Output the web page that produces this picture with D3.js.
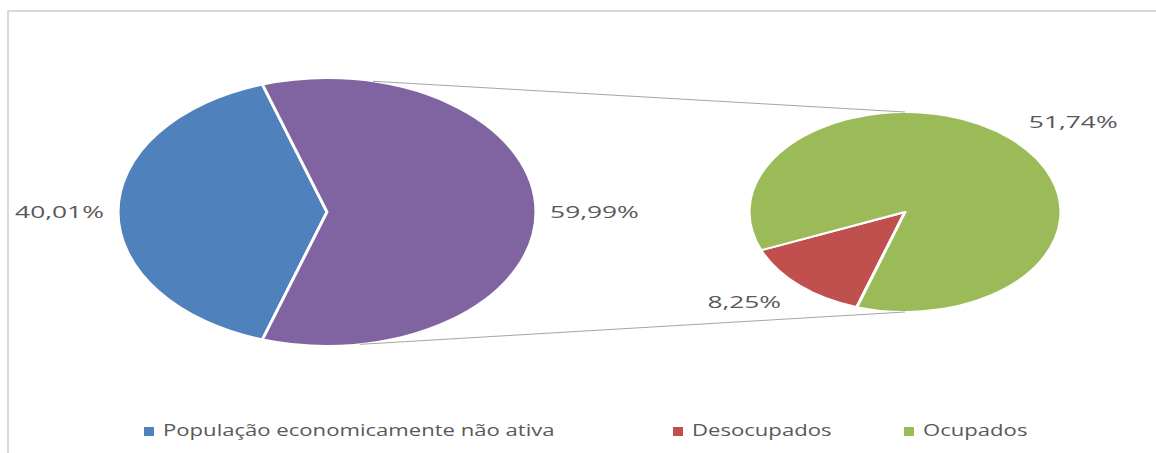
<!DOCTYPE html>
<html lang="pt">
<head>
<meta charset="UTF-8"/>
<title>População economicamente ativa e não ativa</title>
<script src="https://d3js.org/d3.v7.min.js"></script>
<style>
    body { margin: 0; background: #fff; }
    svg { display: block; }
</style>
</head>
<body>
<script>

    // data
    var categories = ["População economicamente não ativa", "Desocupados", "Ocupados"];
    var mainValues = [40.01, 59.99];    // não ativa | ativa (split into the second pie)
    var detailValues = [8.25, 51.74];   // desocupados | ocupados

    var w = 1156;
    var h = 453;
    var stretch = 1.56;                 // the picture is stretched horizontally
    var colors = ["#4F81BD", "#C0504D", "#9BBB59"];
    var otherColor = "#8064A2";
    var textColor = "#595959";

    var pt = d3.formatLocale({decimal: ",", thousands: ".", grouping: [3], currency: ["R$", ""]});
    var fmt = pt.format(".2f");

    var svg = d3.select("body")
                .append("svg")
                .attr("width", w)
                .attr("height", h);

    // chart border
    svg.append("rect")
        .attr("x", 8)
        .attr("y", 11)
        .attr("width", w)
        .attr("height", h)
        .attr("fill", "none")
        .attr("stroke", "#d9d9d9")
        .attr("stroke-width", 2);

    var cy = 212;
    var main = {cx: 327, r: 134, labelGap: 9};
    var detail = {cx: 905, r: 100, labelGap: 17};

    // the "other" slice is centred on the right side, like Excel's pie of pie
    var otherShare = d3.sum(detailValues) / d3.sum(mainValues);
    var start = Math.PI / 2 + Math.PI * otherShare;

    var pie = d3.pie()
                .sort(null)
                .startAngle(start)
                .endAngle(start + 2 * Math.PI);

    var mainArcs = pie(mainValues);
    var detailArcs = pie(detailValues);

    function drawPie(arcs, p, fills) {
        var arc = d3.arc().innerRadius(0).outerRadius(p.r);
        var g = svg.append("g")
                   .attr("transform", "translate(" + p.cx + "," + cy + ") scale(" + stretch + ",1)");
        g.selectAll("path")
            .data(arcs)
            .enter()
            .append("path")
            .attr("d", arc)
            .attr("fill", function(d, i) { return fills[i]; })
            .attr("stroke", "#fff")
            .attr("stroke-width", 2)
            .attr("stroke-linejoin", "round");
    }

    drawPie(mainArcs, main, [colors[0], otherColor]);
    drawPie(detailArcs, detail, [colors[1], colors[2]]);

    // point on a stretched pie at an angle (clockwise from top)
    function onPie(p, a, r) {
        return [p.cx + stretch * r * Math.sin(a), cy - r * Math.cos(a)];
    }

    // connector lines between the pies
    var topA = 12.7 * Math.PI / 180;
    var botA = 171 * Math.PI / 180;
    var lines = [
        [onPie(main, topA, main.r), onPie(detail, 0, detail.r)],
        [onPie(main, botA, main.r), onPie(detail, Math.PI, detail.r)]
    ];
    svg.selectAll("line.connector")
        .data(lines)
        .enter()
        .append("line")
        .attr("class", "connector")
        .attr("x1", function(d) { return d[0][0]; })
        .attr("y1", function(d) { return d[0][1]; })
        .attr("x2", function(d) { return d[1][0]; })
        .attr("y2", function(d) { return d[1][1]; })
        .attr("stroke", "#a6a6a6")
        .attr("stroke-width", 1);

    // data labels outside each slice
    var labelFont = 17, labelScale = 1.55, capH = 12;
    function drawLabels(arcs, p) {
        arcs.forEach(function(d) {
            var a = (d.startAngle + d.endAngle) / 2;
            var pos = onPie(p, a, p.r + p.labelGap);
            var s = Math.sin(a), c = Math.cos(a);
            var anchor = Math.abs(s) < 0.2 ? "middle" : (s > 0 ? "start" : "end");
            svg.append("text")
                .attr("transform", "translate(" + pos[0] + "," + (pos[1] + capH * (1 - c) / 2) + ") scale(" + labelScale + ",1)")
                .attr("text-anchor", anchor)
                .attr("font-family", "'Open Sans', sans-serif")
                .attr("font-size", labelFont + "px")
                .attr("fill", textColor)
                .text(fmt(d.data) + "%");
        });
    }
    drawLabels(mainArcs, main);
    drawLabels(detailArcs, detail);

    // legend
    var legendX = [144, 673, 904];
    var legend = svg.selectAll("g.legend")
                    .data(categories)
                    .enter()
                    .append("g")
                    .attr("class", "legend")
                    .attr("transform", function(d, i) { return "translate(" + legendX[i] + ",436)"; });

    legend.append("rect")
        .attr("x", 0)
        .attr("y", -9)
        .attr("width", 10)
        .attr("height", 9)
        .attr("fill", function(d, i) { return colors[i]; });

    legend.append("text")
        .attr("transform", "translate(19,0) scale(1.3,1)")
        .attr("font-family", "'Open Sans', sans-serif")
        .attr("font-size", "17px")
        .attr("fill", textColor)
        .text(function(d) { return d; });

</script>
</body>
</html>
